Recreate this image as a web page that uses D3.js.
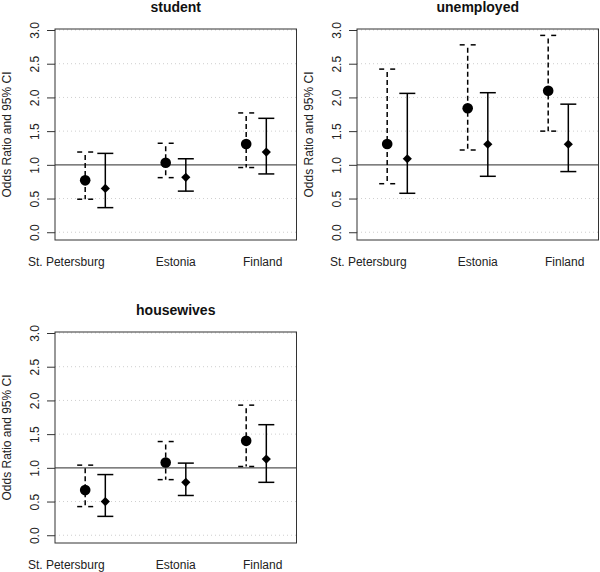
<!DOCTYPE html>
<html lang="en">
<head>
    <meta charset="UTF-8">
    <title>Odds ratios by group</title>
    <style>
        body { margin: 0; background: #fff; }
        svg { display: block; font-family: "Liberation Sans", Arial, sans-serif; }
    </style>
</head>
<body>
    <div id="chart"></div>
    <script src="https://d3js.org/d3.v7.min.js"></script>
    <script>
        // Data
        const countries = ["St. Petersburg", "Estonia", "Finland"];
        const groups = ["student", "unemployed", "housewives"];
        // circle marker, dashed CI
        const orCircle = [[0.77, 1.03, 1.31], [1.31, 1.84, 2.10], [0.67, 1.08, 1.40]];
        const loCircle = [[0.49, 0.81, 0.96], [0.72, 1.22, 1.50], [0.425, 0.825, 1.02]];
        const hiCircle = [[1.19, 1.32, 1.77], [2.42, 2.78, 2.92], [1.04, 1.39, 1.93]];
        // diamond marker, solid CI
        const orDiamond = [[0.65, 0.815, 1.19], [1.09, 1.305, 1.305], [0.50, 0.785, 1.13]];
        const loDiamond = [[0.365, 0.61, 0.865], [0.578, 0.83, 0.90], [0.28, 0.59, 0.785]];
        const hiDiamond = [[1.17, 1.09, 1.69], [2.06, 2.07, 1.90], [0.90, 1.07, 1.64]];
        const yTicks = [0, 0.5, 1, 1.5, 2, 2.5, 3];
        const yLabel = "Odds Ratio and 95% CI";

        // layout
        const W = 600, H = 572;
        const box = { left: 55, right: 296.5, top: 29, bottom: 240 };
        const panelPos = [[0, 0], [302, 0], [0, 303]];
        const labelAt = [0.64, 2.0, 3.08];   // where the country names sit (x units)
        const shift = 0.125;                  // circle left, diamond right of group centre
        const capW = 8;

        const x = d3.scaleLinear().domain([0.5, 3.5]).range([box.left, box.right]);
        const y = d3.scaleLinear().domain([-0.115, 3.015]).range([box.bottom, box.top]);

        const svg = d3.select("#chart").append("svg")
            .attr("width", W).attr("height", H);

        groups.forEach(function(g, p) {
            const panel = svg.append("g")
                .attr("transform", `translate(${panelPos[p][0]},${panelPos[p][1]})`);

            // dotted grid (the 1.0 line is drawn solid below)
            panel.selectAll(".grid")
                .data(yTicks.filter(t => t !== 1))
                .enter().append("line")
                .attr("x1", box.left).attr("x2", box.right)
                .attr("y1", d => y(d)).attr("y2", d => y(d))
                .style("stroke", "#cfcfcf").style("stroke-width", 1)
                .style("stroke-dasharray", "1,3");

            panel.append("line")
                .attr("x1", box.left).attr("x2", box.right)
                .attr("y1", y(1)).attr("y2", y(1))
                .style("stroke", "#555").style("stroke-width", 1.2);

            // y axis
            const axis = panel.append("g")
                .attr("transform", `translate(${box.left},0)`)
                .call(d3.axisLeft(y).tickValues(yTicks).tickFormat(d3.format(".1f")).tickSize(8).tickPadding(0));
            axis.select(".domain").remove();
            axis.selectAll(".tick line").style("stroke", "#333");
            axis.selectAll(".tick text")
                .attr("x", null).attr("dy", null)
                .attr("transform", "translate(-16,0) rotate(-90)")
                .attr("text-anchor", "middle")
                .style("font-size", "12px").style("fill", "#222");

            panel.append("text")
                .attr("transform", `translate(${box.left - 44},${(box.top + box.bottom) / 2}) rotate(-90)`)
                .attr("text-anchor", "middle")
                .style("font-size", "12px").style("fill", "#222")
                .text(yLabel);

            // title
            panel.append("text")
                .attr("x", (box.left + box.right) / 2).attr("y", 12)
                .attr("text-anchor", "middle")
                .style("font-size", "14px").style("font-weight", "bold").style("fill", "#111")
                .text(g);

            // country labels
            panel.selectAll(".country")
                .data(countries)
                .enter().append("text")
                .attr("x", (d, i) => x(labelAt[i])).attr("y", box.bottom + 26)
                .attr("text-anchor", "middle")
                .style("font-size", "12px").style("fill", "#222")
                .text(d => d);

            // error bars
            const rows = countries.map((c, i) => ({
                i: i,
                cx: x(i + 1 - shift), dx: x(i + 1 + shift),
                co: orCircle[p][i], cl: loCircle[p][i], ch: hiCircle[p][i],
                dO: orDiamond[p][i], dl: loDiamond[p][i], dh: hiDiamond[p][i]
            }));

            const bars = panel.selectAll(".bar").data(rows).enter().append("g");

            // dashed CI
            bars.append("line")
                .attr("x1", d => d.cx).attr("x2", d => d.cx)
                .attr("y1", d => y(d.ch)).attr("y2", d => y(d.cl))
                .style("stroke", "#000").style("stroke-width", 1.5)
                .style("stroke-dasharray", "5,3").style("stroke-dashoffset", -3);
            ["ch", "cl"].forEach(function(k) {
                [-1, 1].forEach(function(s) {
                    bars.append("line")
                        .attr("x1", d => d.cx + s * capW).attr("x2", d => d.cx)
                        .attr("y1", d => y(d[k])).attr("y2", d => y(d[k]))
                        .style("stroke", "#000").style("stroke-width", 1.5)
                        .style("stroke-dasharray", "5,3");
                });
            });

            // solid CI
            bars.append("line")
                .attr("x1", d => d.dx).attr("x2", d => d.dx)
                .attr("y1", d => y(d.dh)).attr("y2", d => y(d.dl))
                .style("stroke", "#000").style("stroke-width", 1.5);
            ["dh", "dl"].forEach(function(k) {
                bars.append("line")
                    .attr("x1", d => d.dx - capW).attr("x2", d => d.dx + capW)
                    .attr("y1", d => y(d[k])).attr("y2", d => y(d[k]))
                    .style("stroke", "#000").style("stroke-width", 1.5);
            });

            // markers
            bars.append("circle")
                .attr("cx", d => d.cx).attr("cy", d => y(d.co))
                .attr("r", 5.3).style("fill", "#000");
            const r = 4.6;
            bars.append("path")
                .attr("d", d => `M${d.dx},${y(d.dO) - r}L${d.dx + r},${y(d.dO)}L${d.dx},${y(d.dO) + r}L${d.dx - r},${y(d.dO)}Z`)
                .style("fill", "#000");

            // box
            panel.append("rect")
                .attr("x", box.left).attr("y", box.top)
                .attr("width", box.right - box.left).attr("height", box.bottom - box.top)
                .style("fill", "none").style("stroke", "#333").style("stroke-width", 1);
        });
    </script>
</body>
</html>
